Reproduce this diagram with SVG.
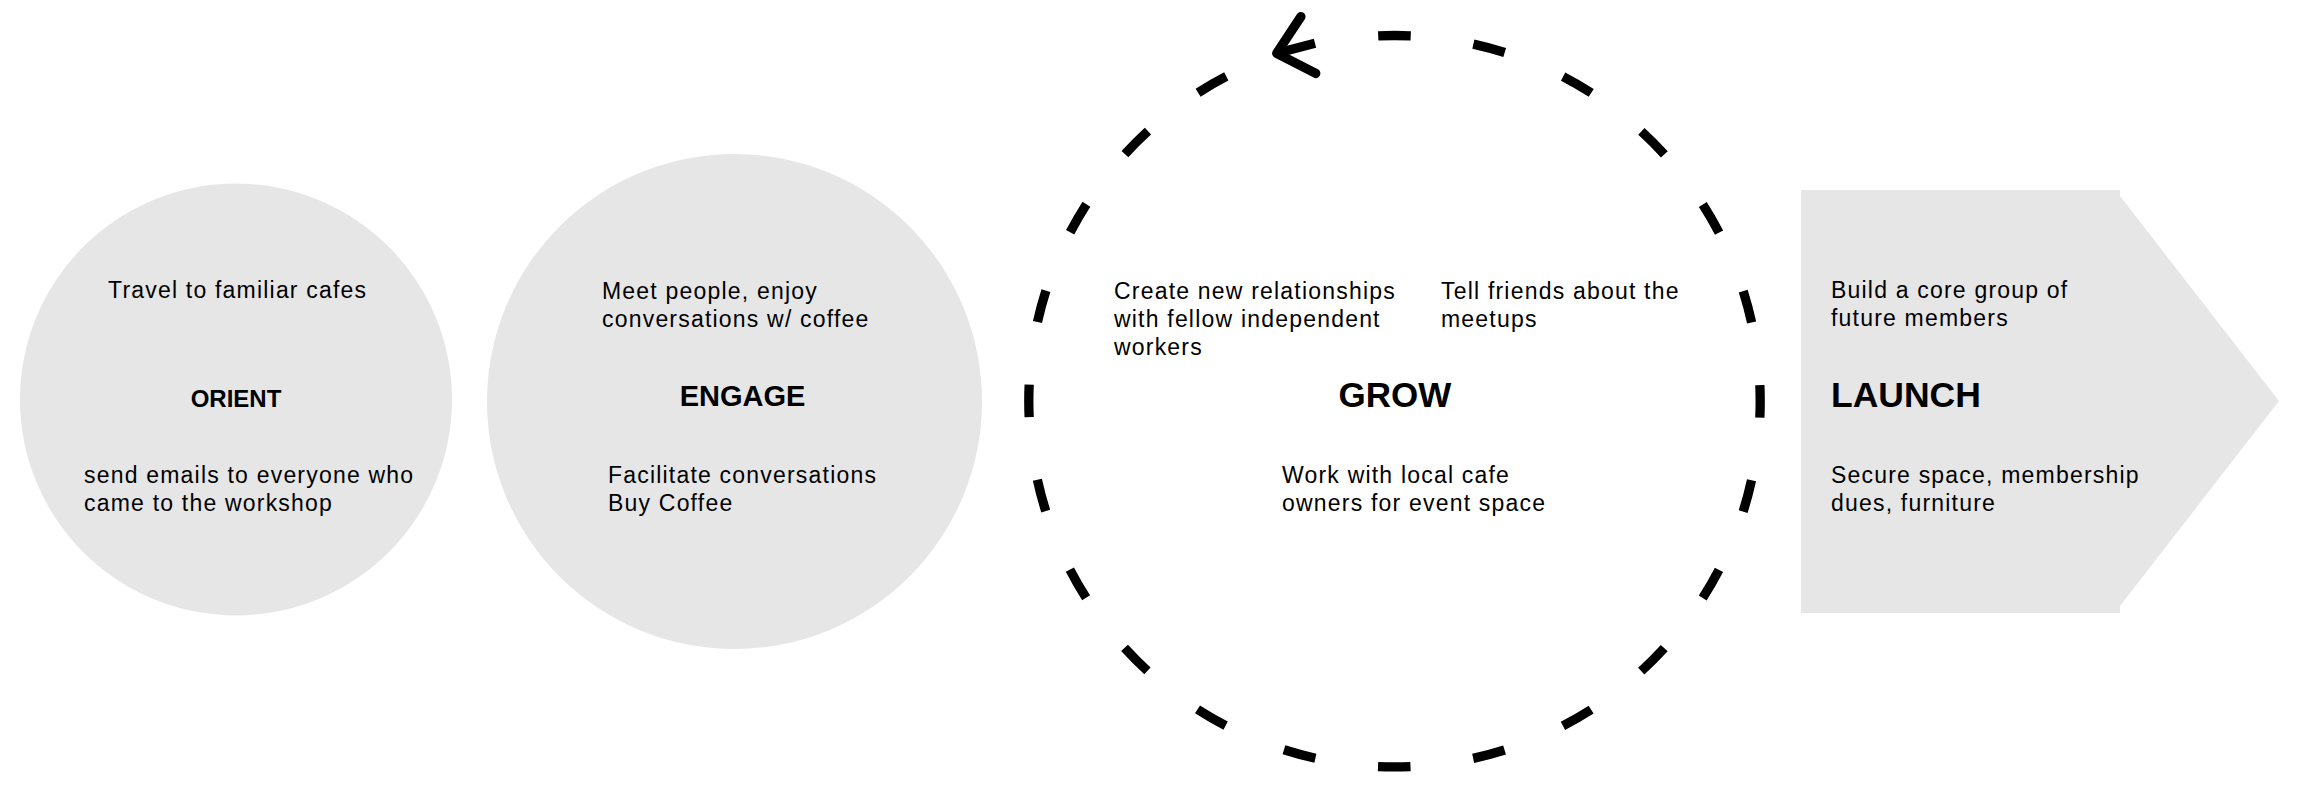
<svg xmlns="http://www.w3.org/2000/svg" width="2313" height="796" viewBox="0 0 2313 796">
<style>
.shape{fill:#e6e6e6}
.t{font-family:"Liberation Sans",Arial,sans-serif;font-size:23px;letter-spacing:1.2px;fill:#000}
.h{font-family:"Liberation Sans",Arial,sans-serif;font-weight:bold;fill:#000}
.ring{fill:none;stroke:#000;stroke-width:9.3;stroke-dasharray:32.5 63.24;stroke-dashoffset:64.12}
.shaft{fill:none;stroke:#000;stroke-width:9.3;stroke-linecap:butt}
</style>
<defs>
<marker id="chev" markerUnits="userSpaceOnUse" orient="auto" refX="0" refY="0" markerWidth="80" markerHeight="80" overflow="visible">
<path d="M-32.7,-29.4 L0,0 L-32.7,29.4" fill="none" stroke="#000" stroke-width="9.3" stroke-linecap="round" stroke-linejoin="round"/>
</marker>
</defs>
<rect width="2313" height="796" fill="#fff"/>
<g id="node-orient">
<circle class="shape" cx="236" cy="399.5" r="216"/>
<text class="t" x="108" y="298">Travel to familiar cafes</text>
<text class="h" x="236" y="407" font-size="24" text-anchor="middle">ORIENT</text>
<text class="t" x="84" y="483">send emails to everyone who</text>
<text class="t" x="84" y="511">came to the workshop</text>
</g>
<g id="node-engage">
<circle class="shape" cx="734.5" cy="401.5" r="247.5"/>
<text class="t" x="602" y="299">Meet people, enjoy</text>
<text class="t" x="602" y="327">conversations w/ coffee</text>
<text class="h" x="742.5" y="406" font-size="29" text-anchor="middle">ENGAGE</text>
<text class="t" x="608" y="483">Facilitate conversations</text>
<text class="t" x="608" y="511">Buy Coffee</text>
</g>
<g id="node-grow">
<text class="t" x="1114" y="299">Create new relationships</text>
<text class="t" x="1114" y="327">with fellow independent</text>
<text class="t" x="1114" y="355">workers</text>
<text class="t" x="1441" y="299">Tell friends about the</text>
<text class="t" x="1441" y="327">meetups</text>
<text class="h" x="1395" y="407" font-size="35" text-anchor="middle">GROW</text>
<text class="t" x="1282" y="483">Work with local cafe</text>
<text class="t" x="1282" y="511">owners for event space</text>
</g>
<g id="node-launch">
<polygon class="shape" points="1801,190 2120,190 2120,196 2279,401 2120,606 2120,613 1801,613"/>
<text class="t" x="1831" y="298">Build a core group of</text>
<text class="t" x="1831" y="326">future members</text>
<text class="h" x="1831" y="407" font-size="35.5">LAUNCH</text>
<text class="t" x="1831" y="483">Secure space, membership</text>
<text class="t" x="1831" y="511">dues, furniture</text>
</g>
<g id="connectors">
<path class="ring" d="M1346.77,38.63 A365.7,365.7 0 1 1 1254.55,63.34"/>
<path class="shaft" d="M1315,43.3 L1276.7,53.3" marker-end="url(#chev)"/>
</g>
</svg>
